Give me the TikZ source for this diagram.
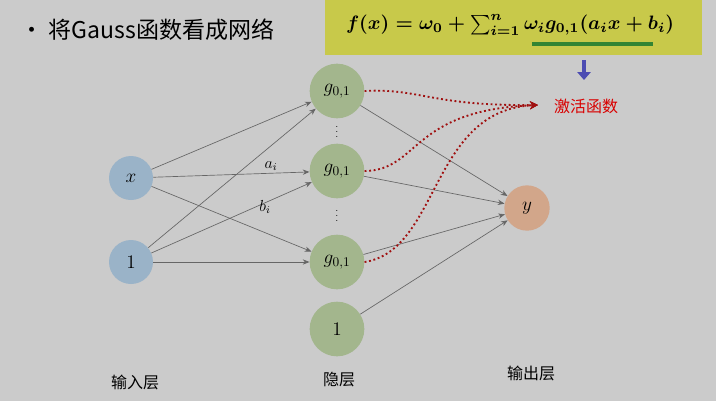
\documentclass[tikz,border=0pt]{standalone}
\usepackage{fontspec}
\usepackage{amsmath}
\newfontfamily\cjk{Noto Sans CJK SC}
\usetikzlibrary{arrows.meta}
\definecolor{bg}{HTML}{CBCBCB}
\definecolor{ybox}{HTML}{C8C94A}
\definecolor{inb}{HTML}{9AB3C8}
\definecolor{hid}{HTML}{A3B68D}
\definecolor{outc}{HTML}{D2A68A}
\definecolor{dred}{HTML}{A01010}
\tikzset{
 neu/.style={circle,minimum size=#1,inner sep=0pt,font=\Large},
 edge/.style={draw=black!60,line width=0.5pt,-{Stealth[length=5pt,width=4pt]}},
 act/.style={draw=dred,line width=1.4pt,dotted,-{Stealth[length=6pt,width=6pt]}},
 lbl/.style={font=\cjk\large}
}
\begin{document}
\begin{tikzpicture}[x=0.75pt,y=-0.75pt]
\fill[bg] (0,0) rectangle (716,401);
\useasboundingbox (0,0) rectangle (716,401);
\fill[ybox] (325,0) rectangle (702,55);
\node[anchor=west,font=\cjk\LARGE] (t) at (16,30) {• 将Gauss函数看成网络};
\node[inner sep=0pt] (f) at (510,25) {\resizebox{246pt}{!}{$\boldsymbol{f(x)=\omega_0+\sum\nolimits_{i=1}^{n}\omega_i g_{0,1}(a_i x+b_i)}$}};
\coordinate (u1) at (532,44); \coordinate (u2) at (653,44);
\draw[draw=green!40!black!80,line width=2.5pt] (u1) -- (u2);
\coordinate (bA) at (584,60); \coordinate (bB) at (584,80);
\draw[draw=blue!40!gray,line width=3pt,-{Triangle[length=6pt,width=10pt]}] (bA) -- (bB);
\node[neu=33pt,fill=inb] (x) at (131,178) {$x$};
\node[neu=33pt,fill=inb] (o) at (131,262) {1};
\node[neu=41pt,fill=hid] (g1) at (337,91) {$g_{0,1}$};
\node[neu=41pt,fill=hid] (g2) at (337,171) {$g_{0,1}$};
\node[neu=41pt,fill=hid] (g3) at (337,262) {$g_{0,1}$};
\node[neu=41pt,fill=hid] (h1) at (337,329) {1};
\node[neu=34pt,fill=outc] (y) at (527,208) {$y$};
\node[inner sep=0pt,font=\scriptsize] (d1) at (337,128) {$\vdots$};
\node[inner sep=0pt,font=\scriptsize] (d2) at (337,212) {$\vdots$};
\foreach \s in {x,o}{\foreach \t in {g1,g2,g3}{\draw[edge] (\s) -- (\t);}}
\foreach \s in {g1,g2,g3,h1}{\draw[edge] (\s) -- (y);}
\node[font=\large] (ai) at (271,166) {$a_i$};
\node[font=\large] (bi) at (265,207) {$b_i$};
\node[font=\cjk\large,text=red!85!black] (act) at (586,106) {激活函数};
\coordinate (tip) at (538,105);
\draw[act] (g1.east) .. controls (420,88) and (430,106) .. (tip);
\draw[act] (g2.east) .. controls (420,170) and (410,110) .. (tip);
\draw[act] (g3.east) .. controls (440,250) and (430,110) .. (tip);
\node[lbl] (l1) at (135,382) {输入层};
\node[lbl] (l2) at (339,380) {隐层};
\node[lbl] (l3) at (531,373) {输出层};
\end{tikzpicture}
\end{document}
